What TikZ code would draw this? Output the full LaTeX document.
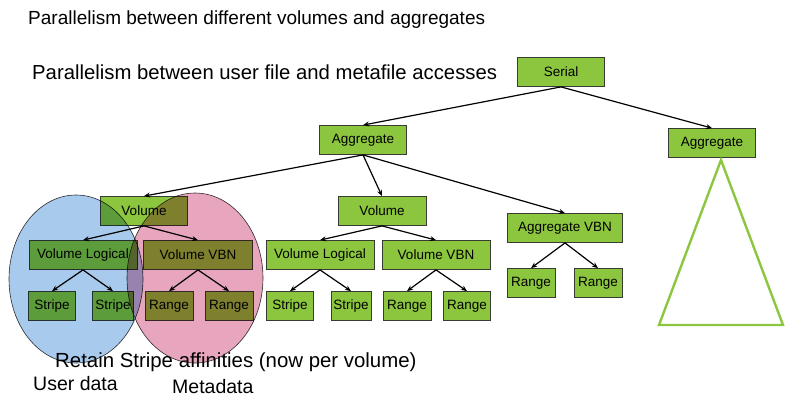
\documentclass[tikz,border=0pt]{standalone}
\usepackage{fontspec}
\setmainfont{Liberation Sans}
\usetikzlibrary{arrows.meta,positioning,shapes.geometric}
\definecolor{boxgreen}{RGB}{140,198,63}
\definecolor{boxedge}{RGB}{55,60,50}
\definecolor{userblue}{RGB}{168,202,236}
\definecolor{metapink}{RGB}{232,166,190}
\tikzset{
  treebox/.style={draw=boxedge,fill=boxgreen,line width=0.8pt,minimum height=29pt,inner sep=0pt,font=\fontsize{13.5}{15}\selectfont},
  link/.style={-{Stealth[length=6pt,width=5pt]},black,line width=1.2pt},
  setshape/.style={draw=black!80,line width=0.6pt,blend mode=multiply},
  caption/.style={anchor=west,inner sep=0pt,font=\fontsize{19.5}{22}\selectfont}
}
\begin{document}
\begin{tikzpicture}[x=1pt,y=-1pt]
\useasboundingbox (0,0) rectangle (800,408);
% headings
\node[caption,font=\fontsize{19}{22}\selectfont] (lineone) at (28,20) {Parallelism between different volumes and aggregates};
\node[caption,font=\fontsize{20.3}{22}\selectfont] (linetwo) at (32,72) {Parallelism between user file and metafile accesses};
% tree
\node[treebox,minimum width=87pt] (serial) at (561,72) {Serial};
\node[treebox,minimum width=87pt] (aggmid) at (363,140) {Aggregate};
\node[treebox,minimum width=87pt] (aggright) at (712,143) {Aggregate};
\node[treebox,minimum width=87pt] (volA) at (144,211) {Volume};
\node[treebox,minimum width=108pt] (logA) at (83,255) {Volume Logical};
\node[treebox,minimum width=109pt] (vbnA) at (198,255) {Volume VBN};
\node[treebox,minimum width=47pt] (stripeA) at (52,306) {Stripe};
\node[treebox,minimum width=41pt] (stripeB) at (113,306) {Stripe};
\node[treebox,minimum width=48pt] (rangeA) at (169,306) {Range};
\node[treebox,minimum width=48pt] (rangeB) at (229,306) {Range};
\node[treebox,minimum width=88pt] (volB) at (382,211) {Volume};
\node[treebox,minimum width=108pt] (logB) at (320,255) {Volume Logical};
\node[treebox,minimum width=108pt] (vbnB) at (436,255) {Volume VBN};
\node[treebox,minimum width=47pt] (stripeC) at (290,306) {Stripe};
\node[treebox,minimum width=40pt] (stripeD) at (351,306) {Stripe};
\node[treebox,minimum width=48pt] (rangeC) at (407,306) {Range};
\node[treebox,minimum width=47pt] (rangeD) at (467,306) {Range};
\node[treebox,minimum width=115pt] (aggvbn) at (565,228) {Aggregate VBN};
\node[treebox,minimum width=48pt] (rangeE) at (531,283) {Range};
\node[treebox,minimum width=48pt] (rangeF) at (598,283) {Range};
\foreach \a/\b in {serial/aggmid,serial/aggright,aggmid/volA,aggmid/volB,aggmid/aggvbn,
  volA/logA,volA/vbnA,logA/stripeA,logA/stripeB,vbnA/rangeA,vbnA/rangeB,
  volB/logB,volB/vbnB,logB/stripeC,logB/stripeD,vbnB/rangeC,vbnB/rangeD,
  aggvbn/rangeE,aggvbn/rangeF}
  \draw[link] (\a.south) -- (\b.north);
% subtree of the right aggregate
\coordinate (apex) at (721,160);
\draw[boxgreen,line width=2.4pt] (apex) -- (783,325) -- (659,325) -- cycle;
% sets
\node[setshape,fill=userblue,ellipse,minimum width=134pt,minimum height=168pt] (userset) at (76,279) {};
\node[setshape,fill=metapink,ellipse,minimum width=136pt,minimum height=170pt] (metaset) at (195,278) {};
\node[caption,font=\fontsize{20.4}{22}\selectfont] (retain) at (55,362) {Retain Stripe affinities (now per volume)};
\node[caption] (userlbl) at (33,384) {User data};
\node[caption] (metalbl) at (172,387) {Metadata};
\end{tikzpicture}
\end{document}
